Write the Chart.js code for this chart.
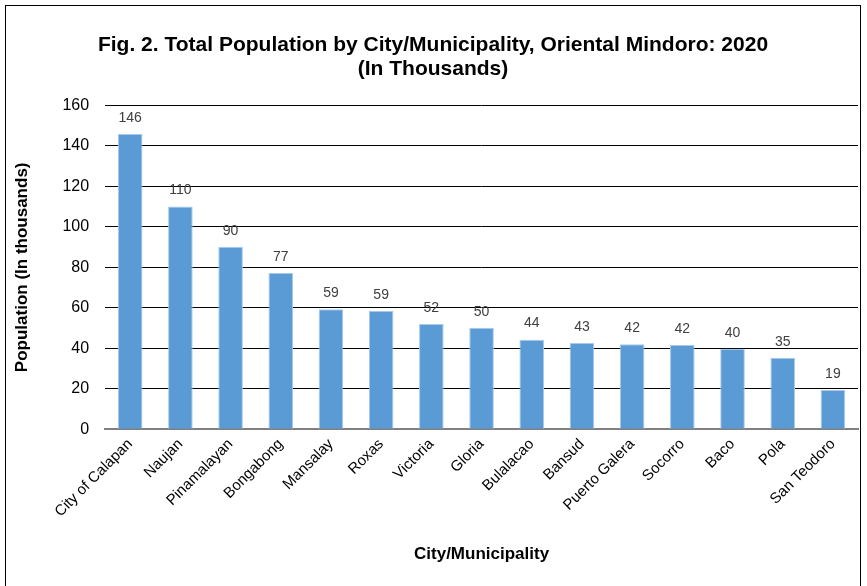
<!DOCTYPE html>
<html>
<head>
<meta charset="utf-8">
<script src="https://cdn.jsdelivr.net/npm/chart.js@4.4.1/dist/chart.umd.min.js"></script>
<style>
  html, body { margin: 0; padding: 0; background: #fff; }
  #frame {
    position: absolute; left: 5px; top: 5px;
    width: 856px; height: 600px;
    border: 1px solid #000; box-sizing: border-box;
  }
  #wrap { position: absolute; left: 0; top: 0; width: 862px; height: 586px; }
</style>
</head>
<body>
<div id="frame"></div>
<div id="wrap"><canvas id="popChart"></canvas></div>
<script>
var cities = ['City of Calapan', 'Naujan', 'Pinamalayan', 'Bongabong', 'Mansalay', 'Roxas',
    'Victoria', 'Gloria', 'Bulalacao', 'Bansud', 'Puerto Galera', 'Socorro', 'Baco', 'Pola', 'San Teodoro'];
var population = [145.8, 110.0, 90.1, 77.2, 59.3, 58.6, 52.0, 50.2, 44.3, 42.6, 42.0, 41.6, 39.8, 35.4, 19.4];
var yTicks = [0, 20, 40, 60, 80, 100, 120, 140, 160];

const FONT = "'Liberation Sans Narrow', 'Liberation Sans', Arial, sans-serif";

// draws the rounded value above each bar
var valueLabels = {
    id: 'valueLabels',
    afterDatasetsDraw: function(chart){
        const ctx = chart.ctx;
        const meta = chart.getDatasetMeta(0);
        ctx.save();
        ctx.font = '14px ' + FONT;
        ctx.fillStyle = '#404040';
        ctx.textAlign = 'center';
        ctx.textBaseline = 'bottom';
        meta.data.forEach(function(bar, i){
            ctx.fillText(Math.round(population[i]), bar.x, bar.y - 9);
        });
        ctx.restore();
    }
};

var ctx = document.getElementById('popChart');
var popChart = new Chart(ctx, {
    type: 'bar',
    data: {
        labels: cities,
        datasets: [{
            label: 'Population',
            data: population,
            backgroundColor: '#5B9BD5',
            borderColor: '#A9C9EA',
            borderWidth: 1,
            barPercentage: 0.49,
            categoryPercentage: 1.0
        }]
    },
    options: {
        responsive: true,
        maintainAspectRatio: false,
        animation: false,
        layout: { padding: { left: 8, right: 4, top: 4, bottom: 17 } },
        plugins: {
            legend: { display: false },
            tooltip: { enabled: false },
            title: {
                display: true,
                text: ['Fig. 2. Total Population by City/Municipality, Oriental Mindoro: 2020', '(In Thousands)'],
                color: '#000',
                font: { family: FONT, size: 21, weight: 'bold', lineHeight: 1.15 },
                padding: { top: 29, bottom: 24 }
            }
        },
        scales: {
            x: {
                grid: { display: false, drawTicks: false },
                border: { color: '#808080', width: 2 },
                ticks: {
                    color: '#000',
                    font: { family: FONT, size: 15 },
                    minRotation: 45,
                    maxRotation: 45,
                    padding: 6
                },
                title: {
                    display: true,
                    text: 'City/Municipality',
                    color: '#000',
                    font: { family: FONT, size: 17, weight: 'bold' },
                    padding: { top: 18 }
                }
            },
            y: {
                min: 0,
                max: 160,
                afterBuildTicks: function(axis){
                    axis.ticks = yTicks.map(function(v){ return { value: v }; });
                },
                grid: { color: '#000', lineWidth: 1, drawTicks: false },
                border: { display: false },
                ticks: {
                    color: '#000',
                    font: { family: FONT, size: 16 },
                    padding: 16
                },
                title: {
                    display: true,
                    text: 'Population (In thousands)',
                    color: '#000',
                    font: { family: FONT, size: 17, weight: 'bold' },
                    padding: { bottom: 14 }
                }
            }
        }
    },
    plugins: [valueLabels]
});
</script>
</body>
</html>
